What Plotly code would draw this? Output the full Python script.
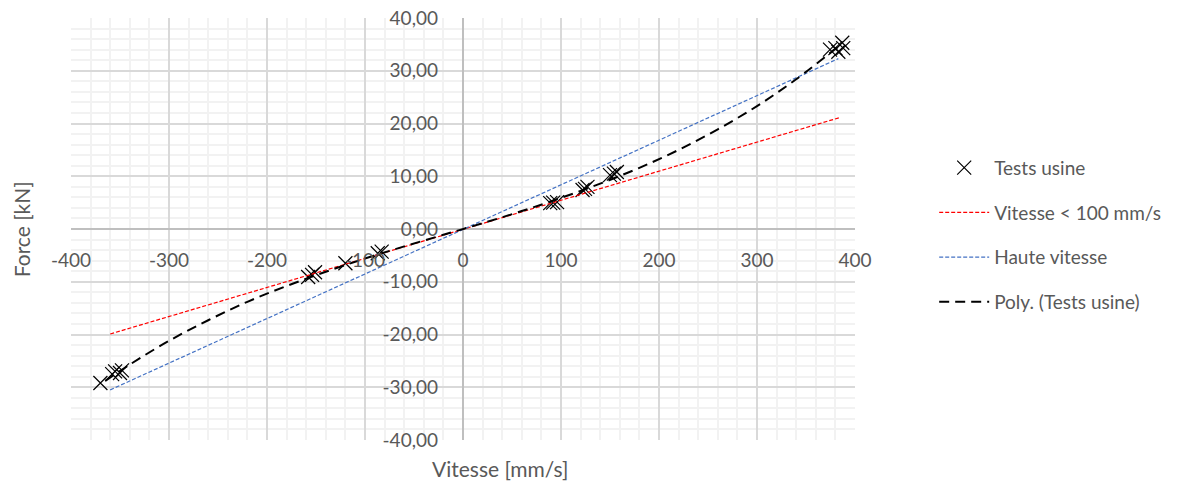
import plotly.graph_objects as go

# Tests usine (mesures)
vitesse = [-370, -358, -355, -350, -348,
           -158, -154, -151, -120, -87, -83,
           89, 92, 96, 122, 124.5, 127, 150, 154, 157,
           374.5, 380, 383, 387, 388]
force = [-29.2, -27.5, -27.0, -27.3, -26.8,
         -9.1, -8.7, -8.2, -6.5, -4.6, -4.3,
         4.9, 5.0, 5.1, 7.4, 7.6, 8.0, 10.2, 10.5, 10.8,
         34.0, 34.3, 33.6, 35.3, 34.3]

# droites de référence
lent_x = [-360, 384]
lent_y = [-19.9, 21.1]
haute_x = [-360, 383]
haute_y = [-30.5, 32.3]

# courbe de tendance polynomiale
poly_x = [-365, -340, -300, -260, -220, -180, -140, -100, -60, -20,
          20, 60, 100, 140, 180, 220, 260, 300, 340, 385]
poly_y = [-28.8, -25.7, -21.2, -17.3, -13.8, -10.8, -8.1, -5.6, -3.3, -1.1,
          1.1, 3.4, 5.9, 8.6, 11.6, 15.0, 18.9, 23.3, 28.4, 34.9]

x_ticks = [-400, -300, -200, -100, 0, 100, 200, 300, 400]
x_labels = ['-400', '-300', '-200', '-100', '0', '100', '200', '300', '400']
y_ticks = [-40, -30, -20, -10, 0, 10, 20, 30, 40]
y_labels = ['-40,00', '-30,00', '-20,00', '-10,00', '0,00', '10,00', '20,00', '30,00', '40,00']

police = 'Lato, Calibri, sans-serif'
gris = '#595959'

fig = go.Figure()
fig.add_trace(go.Scatter(x=vitesse, y=force, mode='markers', name='Tests usine',
                         marker=dict(symbol='x-thin', size=14, line=dict(color='black', width=1.2)),
                         legendgroup='a'))
fig.add_trace(go.Scatter(x=lent_x, y=lent_y, mode='lines', name='Vitesse < 100 mm/s',
                         line=dict(color='#FF0000', width=1.2, dash='4px,2px'), legendgroup='b'))
fig.add_trace(go.Scatter(x=haute_x, y=haute_y, mode='lines', name='Haute vitesse',
                         line=dict(color='#4472C4', width=1.2, dash='4px,2px'), legendgroup='c'))
fig.add_trace(go.Scatter(x=poly_x, y=poly_y, mode='lines', name='Poly. (Tests usine)',
                         line=dict(color='black', width=2, dash='10px,6px', shape='spline'),
                         legendgroup='d'))

fig.update_xaxes(range=[-400, 400], tickvals=x_ticks, ticktext=x_labels,
                 showgrid=True, gridcolor='#d9d9d9', gridwidth=1.5,
                 minor=dict(tickmode='linear', tick0=0, dtick=20, showgrid=True,
                            gridcolor='#f2f2f2', gridwidth=1.5),
                 zeroline=True, zerolinecolor='#bfbfbf', zerolinewidth=1.5,
                 anchor='free', position=0.5, showline=False, ticks='',
                 ticklabelstandoff=18, automargin=False, ticklabeloverflow='allow',
                 tickfont=dict(family=police, size=19, color=gris))
fig.update_yaxes(range=[-40, 40], tickvals=y_ticks, ticktext=y_labels,
                 showgrid=True, gridcolor='#d9d9d9', gridwidth=1.5,
                 minor=dict(tickmode='linear', tick0=0, dtick=2, showgrid=True,
                            gridcolor='#f2f2f2', gridwidth=1.5),
                 zeroline=True, zerolinecolor='#bfbfbf', zerolinewidth=1.5,
                 anchor='free', position=0.5, showline=False, ticks='',
                 ticklabelstandoff=25, automargin=False, ticklabeloverflow='allow',
                 tickfont=dict(family=police, size=19, color=gris))

fig.add_annotation(text='Force [kN]', textangle=-90, xref='paper', yref='paper',
                   x=-0.082, y=0.5, showarrow=False,
                   font=dict(family=police, size=21, color=gris))
fig.add_annotation(text='Vitesse [mm/s]', xref='paper', yref='paper',
                   x=0.547, y=-0.034, yanchor='top', showarrow=False,
                   font=dict(family=police, size=21, color=gris))

# la page ajoute 8 px de marge autour de la figure
fig.update_layout(width=1176, height=474,
                  margin=dict(l=63, r=329, t=10, b=42, autoexpand=False),
                  plot_bgcolor='white', paper_bgcolor='white',
                  font=dict(family=police, size=19, color=gris),
                  legend=dict(x=1.101, y=0.69, xanchor='left', yanchor='top',
                              itemwidth=50, tracegroupgap=17,
                              font=dict(family=police, size=19, color=gris)),
                  showlegend=True)

fig.write_html('out.html')
